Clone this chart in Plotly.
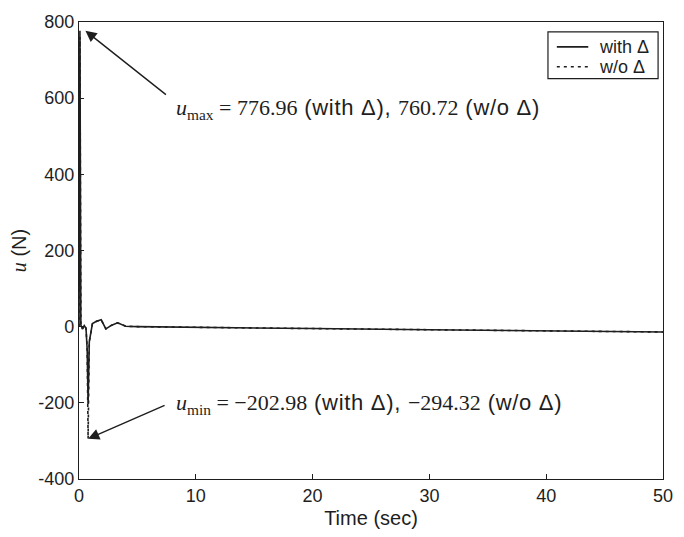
import plotly.graph_objects as go

# Control input u(t) of the closed-loop response, with and without the Δ term
t_with = [0, 0.08, 0.16, 0.3, 0.45, 0.6, 0.7, 0.78, 0.88, 1.15, 1.5, 1.9, 2.3, 2.8, 3.3, 4.0, 5.0, 10, 20, 30, 40, 50]
u_with = [0, 776.96, 4, -6, 3, -4, -60, -202.98, -40, 8, 14, 18, -6, 4, 10, 1, 0, -2, -5, -8, -11, -14]

t_without = [0, 0.08, 0.16, 0.3, 0.45, 0.6, 0.7, 0.78, 0.88, 1.15, 1.5, 1.9, 2.3, 2.8, 3.3, 4.0, 5.0, 10, 20, 30, 40, 50]
u_without = [0, 760.72, 4, -6, 3, -4, -60, -294.32, -40, 8, 14, 18, -6, 4, 10, 1, 0, -2, -5, -8, -11, -14]

u_max = (776.96, 760.72)
u_min = (-202.98, -294.32)

x_ticks = [0, 10, 20, 30, 40, 50]
y_ticks = [-400, -200, 0, 200, 400, 600, 800]
y_tick_text = ["-400", "-200", "0", "200", "400", "600", "800"]

legend_names = ["with Δ", "w/o Δ"]

SERIF = "'Liberation Serif', 'Times New Roman', serif"
SANS = "Liberation Sans, Arial, sans-serif"
INK = "#1e1e1e"

W, H = 684, 537
M = dict(l=79, r=11, t=22, b=55)
PW, PH = W - M["l"] - M["r"], H - M["t"] - M["b"]


def px(x):
    return (x - M["l"]) / PW


def py(y):
    return (H - M["b"] - y) / PH


fig = go.Figure()
# dashed curve first so the solid one covers it where the two coincide
fig.add_trace(go.Scatter(x=t_without, y=u_without, mode="lines", name=legend_names[1],
                         line=dict(color=INK, width=1.6, dash="3px,4px"), showlegend=False))
fig.add_trace(go.Scatter(x=t_with, y=u_with, mode="lines", name=legend_names[0],
                         line=dict(color=INK, width=1.6), showlegend=False))


def math(s):
    return f"<span style=\"font-family:{SERIF}\">{s}</span>"


def spaced(s):
    return f"<span style=\"letter-spacing:0.7px\">{s}</span>"


# arrows pointing at the extremes
fig.add_annotation(x=0.55, y=u_max[0], ax=82, ay=65, xref="x", yref="y",
                   text="", showarrow=True, arrowhead=2, arrowsize=1.6,
                   arrowwidth=1.4, arrowcolor=INK, standoff=0)
fig.add_annotation(x=0.78, y=u_min[1], ax=78, ay=-34, xref="x", yref="y",
                   text="", showarrow=True, arrowhead=2, arrowsize=1.6,
                   arrowwidth=1.4, arrowcolor=INK, standoff=0)

fig.add_annotation(
    x=8.1, y=572, xref="x", yref="y", xanchor="left", yanchor="middle", showarrow=False,
    text=math(f"<i>u</i><sub>max</sub> = {u_max[0]:.2f}") + spaced(" (with Δ), ")
    + math(f"{u_max[1]:.2f}") + spaced(" (w/o Δ)"),
    font=dict(family=SANS, size=22, color=INK))
fig.add_annotation(
    x=8.1, y=-203, xref="x", yref="y", xanchor="left", yanchor="middle", showarrow=False,
    text=math(f"<i>u</i><sub>min</sub> = −{abs(u_min[0]):.2f}") + spaced(" (with Δ), ")
    + math(f"−{abs(u_min[1]):.2f}") + spaced(" (w/o Δ)"),
    font=dict(family=SANS, size=22, color=INK))

# legend box in the upper-right corner
box = dict(x0=556, x1=668, y0=32, y1=79)
fig.add_shape(type="rect", xref="paper", yref="paper",
              x0=px(box["x0"]), x1=px(box["x1"]), y0=py(box["y1"]), y1=py(box["y0"]),
              line=dict(color=INK, width=1.2), fillcolor="white", layer="above")
for i, (name, dash) in enumerate(zip(legend_names, ["solid", "3px,4px"])):
    yc = 47 + 20 * i
    fig.add_shape(type="line", xref="paper", yref="paper",
                  x0=px(565), x1=px(597), y0=py(yc), y1=py(yc),
                  line=dict(color=INK, width=1.6, dash=dash), layer="above")
    fig.add_annotation(x=px(606), y=py(yc), xref="paper", yref="paper",
                       xanchor="left", yanchor="middle", showarrow=False, text=name,
                       font=dict(family=SANS, size=18, color=INK))

axis_common = dict(showgrid=False, zeroline=False, showline=True, linecolor=INK,
                   linewidth=1.3, mirror=True, ticks="inside", ticklen=5,
                   tickcolor=INK, tickfont=dict(family=SANS, size=18, color=INK))

fig.update_xaxes(range=[0, 50], tickvals=x_ticks,
                 title=dict(text="Time (sec)", font=dict(family=SANS, size=20, color=INK),
                            standoff=6),
                 **axis_common)
fig.update_yaxes(range=[-400, 800], tickvals=y_ticks, ticktext=y_tick_text,
                 title=dict(text=math("<i>u</i>") + " (N)",
                            font=dict(family=SANS, size=20, color=INK), standoff=6),
                 **axis_common)

fig.update_layout(
    width=W, height=H,
    margin=M,
    paper_bgcolor="white", plot_bgcolor="white",
    showlegend=False,
)

fig.write_html("out.html")
